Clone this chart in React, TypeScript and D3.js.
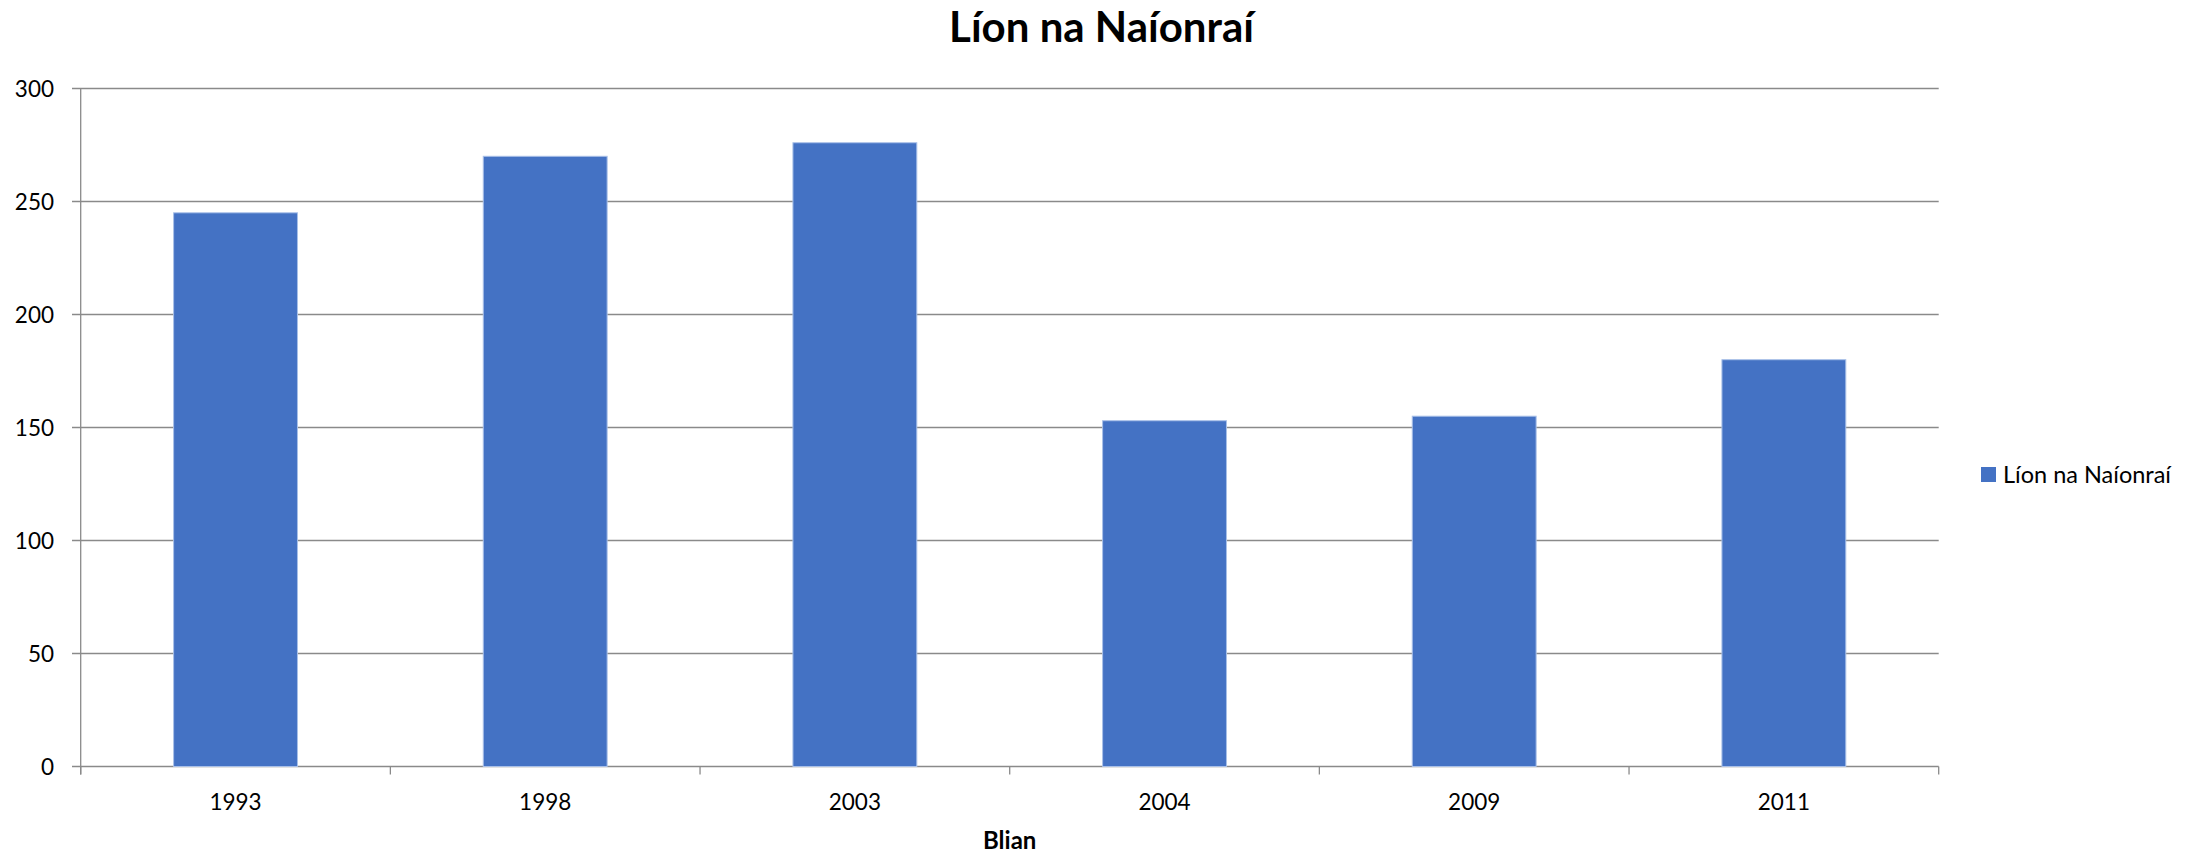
import React from "react";
import * as d3 from "d3";

const categories = ["1993", "1998", "2003", "2004", "2009", "2011"];
const values = [245, 270, 276, 153, 155, 180];
const yTicks = [0, 50, 100, 150, 200, 250, 300];
const title = "Líon na Naíonraí";
const seriesName = "Líon na Naíonraí";
const xTitle = "Blian";

const W = 2203;
const H = 853;
const left = 80.7;
const right = 1938.7;
const top = 88.5;
const bottom = 766.5;
const FONT = "Lato, 'Open Sans', sans-serif";
const BLUE = "#4472C4";
const GRID = "#8a8a8a";

export default function App() {
  const x = d3
    .scaleBand<string>()
    .domain(categories)
    .range([left, right])
    .paddingInner(0.6)
    .paddingOuter(0.3);
  const y = d3.scaleLinear().domain([0, 300]).range([bottom, top]);
  const step = x.step();
  const boundaries = d3.range(categories.length + 1).map((i) => left + i * step);

  return (
    <svg
      width={W}
      height={H}
      style={{ position: "absolute", left: 0, top: 0, background: "#fff" }}
      fontFamily={FONT}
    >
      <rect x={0} y={0} width={W} height={H} fill="#fff" />
      <text x={W / 2} y={42} textAnchor="middle" fontSize={42} fontWeight="bold" fill="#000">
        {title}
      </text>
      {yTicks.map((t) => (
        <g key={t}>
          <line x1={72} x2={right} y1={y(t)} y2={y(t)} stroke={GRID} strokeWidth={1.3} />
          <text x={54} y={y(t)} dy="0.36em" textAnchor="end" fontSize={22.5} fill="#000">
            {t}
          </text>
        </g>
      ))}
      <line x1={left} x2={left} y1={top} y2={bottom + 8} stroke={GRID} strokeWidth={1.3} />
      {boundaries.map((b, i) => (
        <line key={i} x1={b} x2={b} y1={bottom} y2={bottom + 8} stroke={GRID} strokeWidth={1.3} />
      ))}
      {categories.map((c, i) => (
        <rect
          key={c}
          x={x(c)}
          y={y(values[i])}
          width={x.bandwidth()}
          height={bottom - y(values[i])}
          fill={BLUE}
          stroke="#a9c0e8"
          strokeWidth={1}
        />
      ))}
      {categories.map((c) => (
        <text
          key={c}
          x={(x(c) as number) + x.bandwidth() / 2}
          y={809.5}
          textAnchor="middle"
          fontSize={22.5}
          fill="#000"
        >
          {c}
        </text>
      ))}
      <text x={(left + right) / 2} y={849} textAnchor="middle" fontSize={24} fontWeight="bold" fill="#000">
        {xTitle}
      </text>
      <rect x={1981} y={467} width={15} height={15} fill={BLUE} />
      <text x={2003} y={474.5} dy="0.36em" fontSize={23.5} fill="#000">
        {seriesName}
      </text>
    </svg>
  );
}
